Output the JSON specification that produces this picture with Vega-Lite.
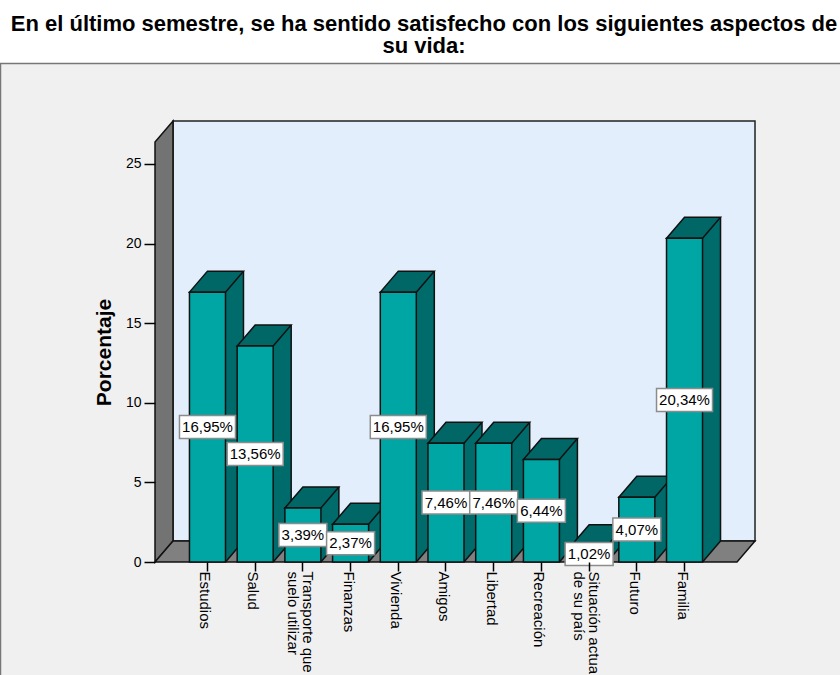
{
"$schema":"https://vega.github.io/schema/vega-lite/v6.json",
"width":582,"height":420,
"autosize":"none",
"padding":{"left":155,"top":142,"right":103,"bottom":113},
"background":"#ffffff",
"title":{"text":["En el último semestre, se ha sentido satisfecho con los siguientes aspectos de","su vida:"],"font":"Liberation Sans","fontSize":22,"fontWeight":"bold","color":"#000000","anchor":"middle","frame":"group","dx":-22,"lineHeight":22,"offset":5},
"config":{"view":{"stroke":null},"font":"Liberation Sans"},
"data":{"values":[
{"categoria":"Estudios","porcentaje":16.95,"etiqueta":"16,95%"},
{"categoria":"Salud","porcentaje":13.56,"etiqueta":"13,56%"},
{"categoria":"Transporte que suelo utilizar","porcentaje":3.39,"etiqueta":"3,39%"},
{"categoria":"Finanzas","porcentaje":2.37,"etiqueta":"2,37%"},
{"categoria":"Vivienda","porcentaje":16.95,"etiqueta":"16,95%"},
{"categoria":"Amigos","porcentaje":7.46,"etiqueta":"7,46%"},
{"categoria":"Libertad","porcentaje":7.46,"etiqueta":"7,46%"},
{"categoria":"Recreación","porcentaje":6.44,"etiqueta":"6,44%"},
{"categoria":"Situación actual de su país","porcentaje":1.02,"etiqueta":"1,02%"},
{"categoria":"Futuro","porcentaje":4.07,"etiqueta":"4,07%"},
{"categoria":"Familia","porcentaje":20.34,"etiqueta":"20,34%"}
]},
"encoding":{
"x":{"field":"categoria","type":"nominal","sort":null,"title":null,
"scale":{"paddingInner":0.245,"paddingOuter":0.7225},
"axis":{"zindex":1,"labelAngle":90,"labelAlign":"left","labelBaseline":"middle","labelFont":"Liberation Sans","labelFontSize":15,"labelColor":"#000000","labelLimit":300,"labelBound":false,"labelOverlap":false,"labelPadding":0,"tickSize":9,"tickColor":"#000000","tickWidth":1.5,"domain":false,"labelLineHeight":15,
"labelOffset":{"condition":{"test":"indexof(datum.value,' ') >= 0","value":5},"value":-2},
"labelExpr":"datum.label == 'Transporte que suelo utilizar' ? ['Transporte que','suelo utilizar'] : datum.label == 'Situación actual de su país' ? ['Situación actual','de su país'] : datum.label"}},
"y":{"field":"porcentaje","type":"quantitative","title":"Porcentaje",
"scale":{"domain":[0,26.38],"nice":false,"zero":true},
"axis":{"zindex":1,"values":[0,5,10,15,20,25],"grid":false,"domain":false,"tickSize":11,"tickColor":"#000000","tickWidth":1.5,"labelFont":"Liberation Sans","labelFontSize":14,"labelColor":"#000000","labelPadding":3,"titleFont":"Liberation Sans","titleFontSize":21,"titleFontWeight":"bold","titleColor":"#000000","titleX":-41}}
},
"layer":[
{"data":{"values":[{"marco":"panel"}]},"mark":{"type":"rect","fill":"#f0f0f0","stroke":"#777777","strokeWidth":1.5,"clip":false},"encoding":{"x":{"value":-154.5},"x2":{"value":700},"y":{"value":-78.5},"y2":{"value":540}}},
{"data":{"values":[{"marco":"pared"}]},"mark":{"type":"point","filled":true,"opacity":1,"size":4,"shape":"M18,-21L600,-21L600,-441L18,-441Z","fill":"#e2eefb","stroke":"#222222","strokeWidth":1.5},"encoding":{"x":{"value":0.01},"y":{"value":420}}},
{"data":{"values":[{"marco":"izquierda"}]},"mark":{"type":"point","filled":true,"opacity":1,"size":4,"shape":"M0,0L18,-21L18,-441L0,-420Z","fill":"#737373","stroke":"#111111","strokeWidth":1.5},"encoding":{"x":{"value":0.01},"y":{"value":420}}},
{"data":{"values":[{"marco":"suelo"}]},"mark":{"type":"point","filled":true,"opacity":1,"size":4,"shape":"M0,0L18,-21L600,-21L582,0Z","fill":"#808080","stroke":"#111111","strokeWidth":1.5},"encoding":{"x":{"value":0.01},"y":{"value":420}}},
{"mark":{"type":"bar","width":18,"xOffset":27,"yOffset":-21,"y2Offset":-21,"fill":"#006b6b"},"encoding":{"y2":{"datum":0}}},
{"mark":{"type":"point","filled":true,"opacity":1,"size":4,"shape":"M18,0L36,-21L36,0Z","fill":"#006b6b"}},
{"mark":{"type":"point","filled":true,"opacity":1,"size":4,"shape":"M18,0L36,-21L18,-21Z","fill":"#006b6b"},"encoding":{"y":{"datum":0}}},
{"mark":{"type":"point","filled":false,"opacity":1,"size":4,"shape":"M18,0L36,-21","stroke":"#111111","strokeWidth":1.5},"encoding":{"y":{"datum":0}}},
{"mark":{"type":"rule","xOffset":36,"yOffset":-21,"y2Offset":-21,"stroke":"#111111","strokeWidth":1.5},"encoding":{"y2":{"datum":0}}},
{"mark":{"type":"point","filled":true,"opacity":1,"size":4,"shape":"M-18,0L18,0L36,-21L0,-21Z","fill":"#006666","stroke":"#111111","strokeWidth":1.5}},
{"mark":{"type":"bar","fill":"#00a6a3","stroke":"#111111","strokeWidth":1.5},"encoding":{"y2":{"datum":0}}},
{"transform":[{"filter":"datum.porcentaje >= 10"},{"calculate":"datum.porcentaje / 2","as":"mitad"}],"mark":{"type":"point","filled":true,"opacity":1,"size":4,"shape":"M-28,-11.5L28,-11.5L28,11.5L-28,11.5Z","fill":"#ffffff","stroke":"#8c8c8c","strokeWidth":1.5},"encoding":{"y":{"field":"mitad","type":"quantitative"}}},
{"transform":[{"filter":"datum.porcentaje < 10"},{"calculate":"datum.porcentaje / 2","as":"mitad"}],"mark":{"type":"point","filled":true,"opacity":1,"size":4,"shape":"M-24,-11.5L24,-11.5L24,11.5L-24,11.5Z","fill":"#ffffff","stroke":"#8c8c8c","strokeWidth":1.5},"encoding":{"y":{"field":"mitad","type":"quantitative"}}},
{"transform":[{"calculate":"datum.porcentaje / 2","as":"mitad"}],"mark":{"type":"text","font":"Liberation Sans","fontSize":15,"color":"#000000","baseline":"middle"},"encoding":{"y":{"field":"mitad","type":"quantitative"},"text":{"field":"etiqueta"}}}
]
}
